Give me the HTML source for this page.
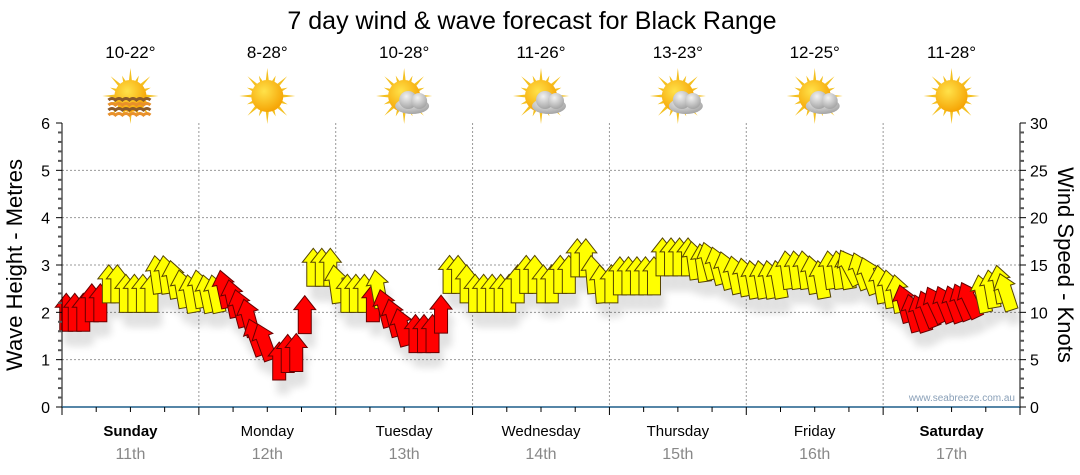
<!DOCTYPE html>
<html><head><meta charset="utf-8"><style>
body{margin:0;background:#fff;}
svg{display:block;font-family:"Liberation Sans",sans-serif;}
</style></head><body>
<svg id="c" width="1080" height="475" viewBox="0 0 1080 475">
<defs>
<radialGradient id="sunG" cx="0.4" cy="0.35" r="0.7"><stop offset="0" stop-color="#ffe24a"/><stop offset="1" stop-color="#f5a000"/></radialGradient>
<radialGradient id="cloudG" cx="0.4" cy="0.3" r="0.8"><stop offset="0" stop-color="#f2f2f2"/><stop offset="1" stop-color="#9a9a9a"/></radialGradient>
<filter id="sh" x="-50%" y="-50%" width="200%" height="200%"><feGaussianBlur stdDeviation="4"/></filter>
</defs>
<text x="532" y="29" font-size="25" text-anchor="middle" fill="#000">7 day wind &amp; wave forecast for Black Range</text>
<g id="grid"></g><g id="shadows" opacity="0.12"></g><g id="marks"></g><g id="axes"></g><g id="icons"></g>
<text transform="translate(22,265) rotate(-90)" font-size="22" text-anchor="middle">Wave Height - Metres</text>
<text transform="translate(1058,265) rotate(90)" font-size="22" text-anchor="middle">Wind Speed - Knots</text>
<text x="1015" y="401" font-size="10" text-anchor="end" fill="#8aa0b8">www.seabreeze.com.au</text>
</svg>
<script>
const days=["Sunday","Monday","Tuesday","Wednesday","Thursday","Friday","Saturday"];
const dates=["11th","12th","13th","14th","15th","16th","17th"];
const temps=["10-22°","8-28°","10-28°","11-26°","13-23°","12-25°","11-28°"];
const icons=["sunwave","sun","cloud","cloud","cloud","cloud","sun"];
const leftTicks=[0,1,2,3,4,5,6];
const rightTicks=[0,5,10,15,20,25,30];
const waveH=[1.6,1.6,1.6,1.8,1.8,2.2,2.2,2.0,2.0,2.0,2.0,2.4,2.4,2.3,2.1,2.0,
2.1,2.0,2.0,2.1,1.9,1.7,1.5,1.1,1.0,0.57,0.73,0.75,1.55,2.55,2.55,2.55,
2.2,2.0,2.0,2.0,1.8,2.1,1.7,1.5,1.3,1.15,1.15,1.15,1.56,2.4,2.4,2.2,
2.0,2.0,2.0,2.0,2.0,2.2,2.4,2.4,2.2,2.2,2.4,2.4,2.75,2.75,2.4,2.2,
2.2,2.37,2.37,2.37,2.37,2.37,2.77,2.77,2.77,2.77,2.7,2.65,2.7,2.6,2.5,2.4,
2.35,2.3,2.3,2.3,2.3,2.5,2.5,2.5,2.4,2.3,2.5,2.5,2.5,2.6,2.5,2.4,
2.2,2.1,2.0,1.8,1.6,1.6,1.7,1.8,1.8,1.8,1.85,1.9,2.0,2.1,2.2,2.05];
const windDir=[0,0,0,0,0,0,0,0,0,0,0,-8,-8,-10,-10,-10,
-10,-12,-12,-12,-12,-15,-15,-20,-20,0,0,0,0,0,0,0,
-8,0,0,0,0,-10,-15,-15,-15,0,0,0,0,0,0,0,
0,0,0,0,0,0,0,0,0,0,0,0,0,0,-5,-5,
0,0,0,0,0,0,0,0,0,0,-8,-8,-15,-15,-15,-12,
-10,-10,-10,-10,-10,-8,-8,-8,-10,-10,-8,-8,-10,-28,-20,-20,
-10,-10,-10,-15,-15,-18,-22,-25,-22,-20,-22,-25,-12,-10,-10,-18];
const colors="rrrrryyyyyyyyyyy"+"yyyrrrrrrrrrryyy"+"yyyyryrrrrrrryyy"+"yyyyyyyyyyyyyyyy"+"yyyyyyyyyyyyyyyy"+"yyyyyyyyyyyyyyyy"+"yyyrrrrrrrrryyyy";
const NS="http://www.w3.org/2000/svg";
const X0=62,X1=1020,YT=123,YB=407;
const dayW=(X1-X0)/7;
const yM=v=>YB-(v/6)*(YB-YT);
const yK=v=>YB-(v/30)*(YB-YT);
const xIdx=i=>X0+4+(i+0.5)*(X1-X0-4)/waveH.length-4;
function mk(tag,attrs,parent){const e=document.createElementNS(NS,tag);for(const k in attrs)e.setAttribute(k,attrs[k]);parent.appendChild(e);return e;}
const grid=document.getElementById('grid'),axes=document.getElementById('axes'),marks=document.getElementById('marks'),shadows=document.getElementById('shadows'),ic=document.getElementById('icons');
leftTicks.forEach(v=>{if(v>0&&v<6){const l=mk('line',{x1:X0,x2:X1,y1:yM(v),y2:yM(v),stroke:'#999','stroke-dasharray':'2,2'},grid);

}});
for(let d=1;d<7;d++){const l=mk('line',{x1:X0+d*dayW,x2:X0+d*dayW,y1:YT,y2:YB,stroke:'#999','stroke-dasharray':'2,2'},grid);

}
mk('line',{x1:X0,x2:X0,y1:YT,y2:YB,stroke:'#000'},axes);
mk('line',{x1:X1,x2:X1,y1:YT,y2:YB,stroke:'#000'},axes);
for(let k=0;k<=30;k++){const y=yK(k);const big=k%5==0;
mk('line',{x1:X0-(big?6:4),x2:X0,y1:y,y2:y,stroke:big?'#000':'#555','stroke-width':big?1:2},axes);
mk('line',{x1:X1,x2:X1+(big?6:4),y1:y,y2:y,stroke:big?'#000':'#555','stroke-width':big?1:2},axes);}
leftTicks.forEach(v=>{const t=mk('text',{x:X0-12,y:yM(v)+6,'font-size':16,'text-anchor':'end'},axes);t.textContent=v;

});
rightTicks.forEach(v=>{const t=mk('text',{x:X1+10,y:yK(v)+6,'font-size':16,'text-anchor':'start'},axes);t.textContent=v;

});
mk('line',{x1:X0,x2:X1,y1:YB,y2:YB,stroke:'#1f5f8a','stroke-width':1.5},axes);
for(let q=0;q<=28;q++){const x=X0+q*dayW/4;mk('line',{x1:x,x2:x,y1:YB,y2:YB+(q%4==0?8:5),stroke:'#000'},axes);}
days.forEach((d,i)=>{const cx=X0+(i+0.5)*dayW;const bold=(i==0||i==6);
const t=mk('text',{x:cx,y:436,'font-size':15,'text-anchor':'middle','font-weight':bold?'bold':'normal'},axes);t.textContent=d;


const t2=mk('text',{x:cx,y:459,'font-size':16,'text-anchor':'middle',fill:'#888'},axes);t2.textContent=dates[i];


const t3=mk('text',{x:cx,y:58,'font-size':17,'text-anchor':'middle'},ic);t3.textContent=temps[i];


const g=mk('g',{transform:`translate(${cx},96)`},ic);


for(let r=0;r<16;r++){const a=r*Math.PI/8,L=r%2?22:28;mk('polygon',{points:`${Math.cos(a-0.12)*14},${Math.sin(a-0.12)*14} ${Math.cos(a)*L},${Math.sin(a)*L} ${Math.cos(a+0.12)*14},${Math.sin(a+0.12)*14}`,fill:'#f4c020'},g);}
mk('circle',{r:16,fill:'url(#sunG)'},g);
if(icons[i]=='cloud'){const c=mk('g',{transform:'translate(8,4)'},g);
mk('ellipse',{cx:0,cy:6,rx:17,ry:8,fill:'url(#cloudG)'},c);mk('circle',{cx:-4,cy:0,r:9,fill:'url(#cloudG)'},c);mk('circle',{cx:7,cy:1,r:8,fill:'url(#cloudG)'},c);}
if(icons[i]=='sunwave'){for(let w=0;w<4;w++){let p=`M-22,${4+w*5}`;for(let s=0;s<6;s++)p+=` q3.5,-3 7,0`;mk('path',{d:p,stroke:w%2?'#e8902a':'#8a5a2a','stroke-width':3,fill:'none'},g);}}
});
const L=38,HH=14,HW=11,SW=6.5;
const shape=`M${-SW},0 L${-SW},${-(L-HH)} L${-HW},${-(L-HH)} L0,${-L} L${HW},${-(L-HH)} L${SW},${-(L-HH)} L${SW},0 Z`;
waveH.forEach((v,i)=>{const x=xIdx(i),y=yM(v);
const s=mk('path',{d:shape,transform:`translate(${x+4},${y+14}) rotate(${windDir[i]})`,fill:'#000',filter:'url(#sh)'},shadows);


const a=mk('path',{d:shape,transform:`translate(${x},${y}) rotate(${windDir[i]})`,fill:colors[i]=='r'?'#ff0000':'#ffff00',stroke:colors[i]=='r'?'#600':'#554400','stroke-width':1},marks);

});
</script>
</body></html>
